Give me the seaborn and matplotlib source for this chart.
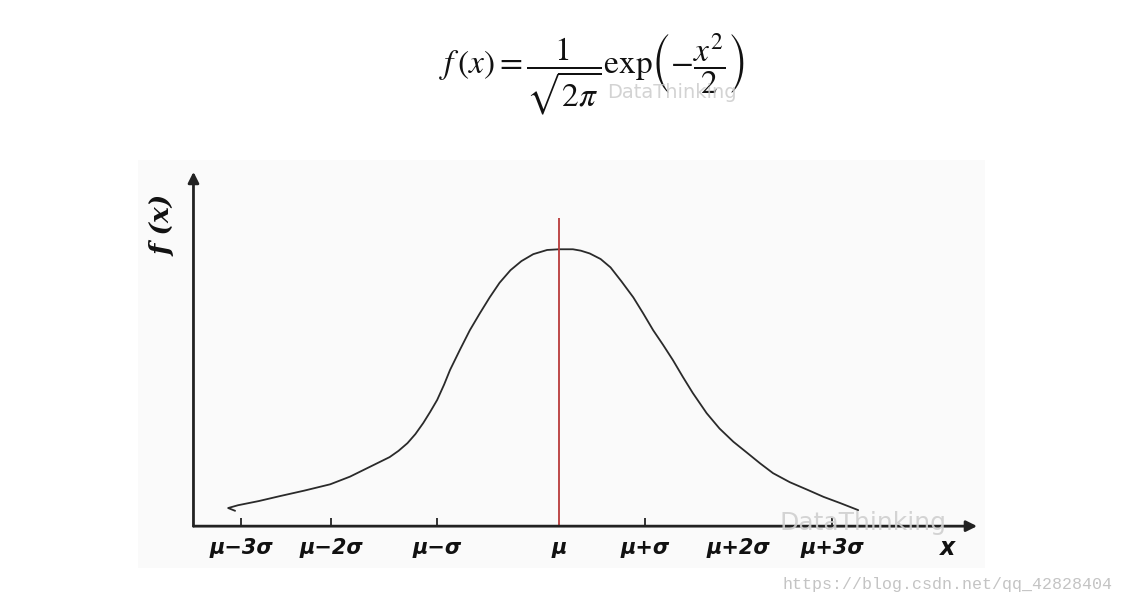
import numpy as np
import pandas as pd
import seaborn as sns
import matplotlib.pyplot as plt

# --- data (x in sigma units around mu, y as density) ---
curve_x = [-3.27, -3.34, -3.24, -3.03, -2.82, -2.57, -2.31, -2.11, -1.91, -1.71,
           -1.62, -1.53, -1.45, -1.37, -1.30, -1.23, -1.16, -1.10, -1.00, -0.90,
           -0.80, -0.70, -0.60, -0.49, -0.38, -0.26, -0.12, 0.00, 0.14, 0.22,
           0.31, 0.42, 0.52, 0.63, 0.75, 0.85, 0.95, 1.05, 1.15, 1.25,
           1.35, 1.49, 1.62, 1.76, 1.90, 2.03, 2.16, 2.33, 2.51, 2.67,
           2.84, 3.02]
curve_y = [0.022, 0.026, 0.030, 0.036, 0.043, 0.051, 0.060, 0.071, 0.085, 0.099,
           0.108, 0.119, 0.132, 0.148, 0.164, 0.181, 0.203, 0.224, 0.253, 0.281,
           0.305, 0.328, 0.349, 0.367, 0.380, 0.390, 0.396, 0.397, 0.397, 0.395,
           0.391, 0.383, 0.371, 0.351, 0.328, 0.305, 0.281, 0.260, 0.238, 0.214,
           0.191, 0.162, 0.140, 0.121, 0.105, 0.090, 0.076, 0.063, 0.052, 0.042,
           0.033, 0.023]

tick_pos = [-3.21, -2.30, -1.23, 0.00, 0.87, 1.81, 2.76]
tick_labels = ["\u03bc\u22123\u03c3", "\u03bc\u22122\u03c3", "\u03bc\u2212\u03c3", "\u03bc",
               "\u03bc+\u03c3", "\u03bc+2\u03c3", "\u03bc+3\u03c3"]
tick_drawn = [True, True, True, False, True, False, True]

mean_line_top = 0.442

sns.set_style("white")
plt.rcParams['font.family'] = ['DejaVu Sans']
plt.rcParams['mathtext.fontset'] = 'stix'

fig = plt.figure(figsize=(11.24, 6.06), dpi=100)
fig.patch.set_facecolor('white')

# axes covering the light grey panel
ax = fig.add_axes([138 / 1124, 1 - 568 / 606, (985 - 138) / 1124, (568 - 160) / 606])
ax.set_facecolor('#fafafa')
ax.set_xlim(-4.25, 4.30)
ax.set_ylim(-0.060, 0.525)
for s in ax.spines.values():
    s.set_visible(False)
ax.set_xticks([])
ax.set_yticks([])

df = pd.DataFrame({"x": curve_x, "y": curve_y})
sns.lineplot(data=df, x="x", y="y", sort=False, color='#2a2a2a', lw=1.3, ax=ax)
ax.set_xlabel("")
ax.set_ylabel("")

# axes with arrows
x0 = -3.69
ax.annotate("", xy=(x0, 0.508), xytext=(x0, 0), annotation_clip=False,
            arrowprops=dict(arrowstyle='-|>', lw=2.0, color='#222222',
                            mutation_scale=16, shrinkA=0, shrinkB=0))
ax.annotate("", xy=(4.22, 0), xytext=(x0, 0), annotation_clip=False,
            arrowprops=dict(arrowstyle='-|>', lw=2.0, color='#222222',
                            mutation_scale=16, shrinkA=0, shrinkB=0))

# mean line
ax.vlines(0, 0, mean_line_top, color='#b83a3a', lw=1.3)

# small ticks and labels
for p, lab, d in zip(tick_pos, tick_labels, tick_drawn):
    if d:
        ax.vlines(p, 0, 0.011, color='#222222', lw=1.3)
    ax.text(p, -0.031, lab, ha='center', va='center', fontsize=15,
            fontweight='bold', fontstyle='italic', color='#111111')
ax.text(3.92, -0.031, "x", ha='center', va='center', fontsize=17,
        fontweight='bold', fontstyle='italic', color='#111111')

ax.text(-4.0, 0.431, "f (x)", rotation=90, ha='center', va='center',
        fontsize=19, family='DejaVu Serif', fontstyle='italic', fontweight='bold',
        color='#111111')

# watermark on the x axis
ax.text(3.07, 0.004, "DataThinking", ha='center', va='center', fontsize=18,
        color='#cfcfcf', alpha=0.9, family='DejaVu Sans')

# formula
formula = r'$f\,(x) = \dfrac{1}{\sqrt{2\pi}}\mathrm{exp}\left(-\dfrac{x^2}{2}\right)$'
fig.text(592 / 1124, 1 - 74 / 606, formula, ha='center', va='center',
         fontsize=24, color='#111111')
fig.text(672 / 1124, 1 - 92 / 606, "DataThinking", ha='center', va='center',
         fontsize=14, color='#c8c8c8', alpha=0.8)

fig.text(783 / 1124, 1 - 585 / 606, "https://blog.csdn.net/qq_42828404",
         ha='left', va='center', fontsize=12, family='Liberation Mono',
         color='#c4c4c4')

fig.savefig("out.png", dpi=100, facecolor='white')
